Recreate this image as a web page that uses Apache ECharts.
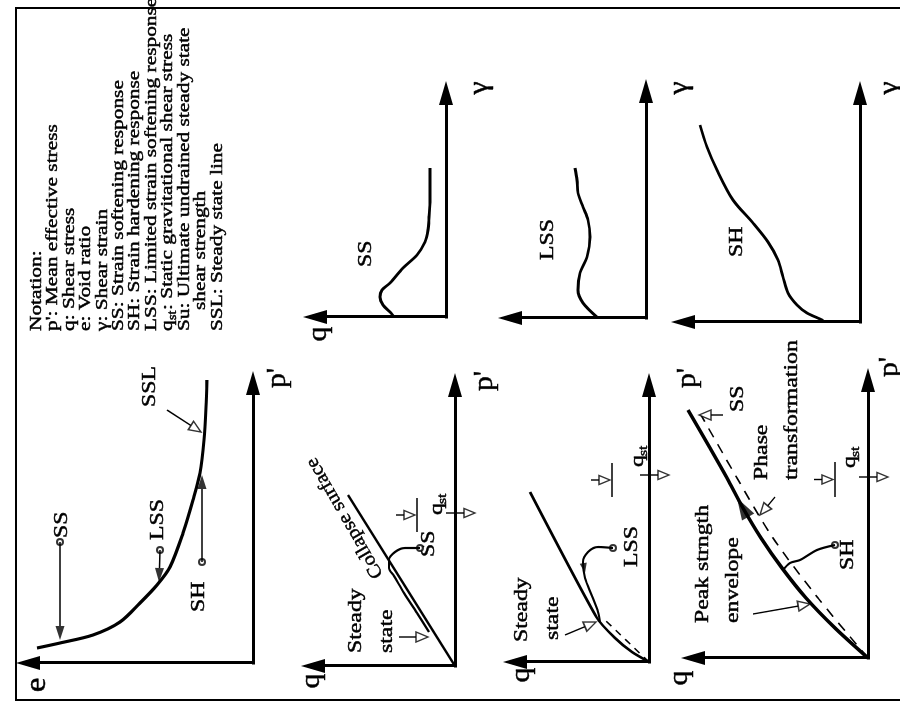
<!DOCTYPE html>
<html>
<head>
<meta charset="utf-8">
<title>Undrained response of sand</title>
<script src="https://cdn.jsdelivr.net/npm/echarts@6.0.0/dist/echarts.min.js"></script>
<style>
  html, body { margin: 0; padding: 0; background: #fff; overflow: hidden; width: 900px; height: 708px; }
  /* the scanned figure lies on its side: draw it upright, then turn the page */
  #chart {
    position: absolute; left: 0; top: 0;
    width: 708px; height: 900px;
    transform-origin: 0 0;
    transform: translate(0, 708px) rotate(-90deg);
  }
</style>
</head>
<body>
<div id="chart"></div>
<script>
const FONT = '"Liberation Serif", "Times New Roman", serif';

const notationLines = [
  "Notation:",
  "p': Mean effective stress",
  "q: Shear stress",
  "e: Void ratio",
  "γ: Shear strain",
  "SS: Strain softening response",
  "SH: Strain hardening response",
  "LSS: Limited strain softening response",
  ": Static gravitational shear stress",   // after q_st
  "Su: Ultimate undrained steady state",
  "shear strength",
  "SSL: Steady state line"
];

// e - p' : steady state line
const sslP = [15, 20, 28, 41, 60, 78, 96, 130, 163, 190, 223, 256, 286];
const sslE = [216, 193, 160, 133, 113, 96, 83, 70, 60, 53, 49, 47, 46];
// SS / LSS / SH states moving onto the SSL (start, tip)
const epFrom = [[121, 193], [113, 93], [101, 51]];
const epTip = [[23, 193], [81, 94], [188, 51]];
const sslArrowFrom = [253, 86];
const sslArrowTip = [231, 52];

// SS : q - p'
const ssSurfP = [0, 171];
const ssSurfQ = [0, 107];
const ssPathP = [118, 118, 114, 106, 98, 90, 73, 53, 34];
const ssPathQ = [35, 50, 60, 66, 66, 61, 51, 38, 26];
// SS : q - gamma
const ssGamma = [0, 4, 12, 20, 27, 34, 49, 62, 75, 87, 100, 117, 149];
const ssQ = [52, 55, 63, 66, 64, 56, 43, 29, 21, 18, 17, 16, 16];

// LSS : q - p'
const lssLineP = [0, 10, 24, 44, 170];
const lssLineQ = [0, 17, 34, 52, 119];
const lssPathP = [114, 115, 110, 100, 84, 66, 50, 40];
const lssPathQ = [36, 51, 61, 66, 64, 57, 51, 49];
// LSS : q - gamma
const lssGamma = [0, 15, 28, 45, 61, 81, 98, 111, 125, 138, 150];
const lssQ = [48, 63, 68, 66, 59, 56, 58, 63, 68, 69, 71];

// SH : q - p'
const shEnvP = [0, 30, 60, 90, 120, 150, 180, 210, 248];
const shEnvQ = [0, 33, 62, 86, 107, 125, 141, 158, 180];
const shPtP = [0, 60, 120, 180, 243];
const shPtQ = [0, 50, 95, 131, 167];
const shPathP = [113, 108, 98, 95, 88];
const shPathQ = [33, 51, 68, 78, 85];
// SH : q - gamma
const shGamma = [0, 2, 9, 17, 29, 45, 62, 80, 99, 122, 152, 175, 197];
const shQ = [36, 38, 53, 63, 72, 77, 82, 92, 107, 127, 143, 153, 160];

// static shear stress marks in the three q - p' panels
const qstLevel = [38, 37, 33];
const qstBarFrom = [134, 165, 161];
const qstBarTo = [168, 199, 196];
const qstAxisP = [153, 187, 181];

// panel origin (page px) and axis length to arrow tip
const panels = [
  [45, 253, 293, 238],   // e - p'
  [42, 455, 294, 155],   // SS q - p'
  [46, 649, 290, 147],   // LSS q - p'
  [50, 868, 291, 188],   // SH q - p'
  [391, 446, 237, 144],  // SS q - gamma
  [390, 646, 240, 149],  // LSS q - gamma
  [386, 860, 242, 190]   // SH q - gamma
];

const series = [];
const graphic = [];

function pts(xs, ys) {
  return xs.map((x, i) => [x, ys[i]]);
}

function curve(g, data, width, extra) {
  series.push(Object.assign({
    type: 'line', xAxisIndex: g, yAxisIndex: g, data: data,
    smooth: 0.3, symbol: 'none', clip: false, silent: true,
    lineStyle: { color: '#000', width: width }
  }, extra || {}));
}

function dot(g, p) {
  series.push({
    type: 'scatter', xAxisIndex: g, yAxisIndex: g, clip: false, silent: true,
    data: [p], symbol: 'emptyCircle', symbolSize: 6,
    itemStyle: { color: '#000', borderWidth: 1.3 }
  });
}

// arrow from -> tip; the head is a triangle symbol turned along the shaft
function arrow(g, from, tip, o) {
  const dx = tip[0] - from[0], dy = tip[1] - from[1];
  const d = Math.hypot(dx, dy);
  const ux = dx / d, uy = dy / d;
  if (o.stem !== false) {
    curve(g, [from, [tip[0] - ux * o.h, tip[1] - uy * o.h]], o.lw || 1.4, { smooth: false });
  }
  series.push({
    type: 'scatter', xAxisIndex: g, yAxisIndex: g, clip: false, silent: true, z: 3,
    data: [{
      value: [tip[0] - ux * o.h / 2, tip[1] - uy * o.h / 2],
      symbol: 'triangle', symbolSize: [o.w, o.h],
      symbolRotate: Math.atan2(-ux, uy) * 180 / Math.PI
    }],
    itemStyle: o.hollow ? { color: '#fff', borderColor: '#000', borderWidth: 1.5 } : { color: '#000' }
  });
  if (o.circle) dot(g, from);
}

const HOLLOW = { hollow: true, w: 10, h: 12 };
const FILLED = { w: 9, h: 14, circle: true };

// e - p'
curve(0, pts(sslP, sslE), 3.2);
epFrom.forEach((f, i) => arrow(0, f, epTip[i], FILLED));
arrow(0, sslArrowFrom, sslArrowTip, HOLLOW);

// SS
curve(1, pts(ssSurfP, ssSurfQ), 2.6, { smooth: false });
curve(1, pts(ssPathP, ssPathQ), 2.2);
dot(1, [ssPathP[0], ssPathQ[0]]);
arrow(1, [29, 56], [29, 27], HOLLOW);
curve(4, pts(ssGamma, ssQ), 2.8);

// LSS
curve(2, pts(lssLineP, lssLineQ), 2.6, { smooth: 0.2 });
curve(2, [[0, 0], [42, 44]], 1.5, { smooth: false, lineStyle: { color: '#000', width: 1.5, type: [7, 6] } });
curve(2, pts(lssPathP, lssPathQ), 2.2);
dot(2, [lssPathP[0], lssPathQ[0]]);
arrow(2, [100, 66], [89, 64], { w: 7, h: 10, stem: false });
arrow(2, [27, 84], [40, 53], HOLLOW);
curve(5, pts(lssGamma, lssQ), 2.8);

// SH
curve(3, pts(shEnvP, shEnvQ), 3.6);
curve(3, pts(shPtP, shPtQ), 1.6, { lineStyle: { color: '#000', width: 1.6, type: [10, 8] } });
curve(3, pts(shPathP, shPathQ), 2.2);
dot(3, [shPathP[0], shPathQ[0]]);
arrow(3, [136, 117], [160, 131], { w: 14, h: 22, stem: false });
arrow(3, [44, 115], [54, 58], HOLLOW);
arrow(3, [161, 93], [143, 108], HOLLOW);
arrow(3, [243, 145], [243, 169], HOLLOW);
curve(6, pts(shGamma, shQ), 2.8);

// q_st marks: level bar with arrow, and arrow across the p' axis
qstLevel.forEach((q, i) => {
  const g = i + 1;
  const mid = (qstBarFrom[i] + qstBarTo[i]) / 2;
  curve(g, [[qstBarFrom[i], q], [qstBarTo[i], q]], 1.6, { smooth: false });
  arrow(g, [mid, q + 21], [mid, q + 2], { hollow: true, w: 9, h: 11 });
  arrow(g, [qstAxisP[i], 9], [qstAxisP[i], -20], { hollow: true, w: 9, h: 11 });
});

// text is drawn a touch heavy, like the scanned original
function label(str, x, y, size, o) {
  o = o || {};
  graphic.push({
    type: 'text', x: x, y: y, scaleX: o.sx || 1.25, rotation: o.rot || 0, silent: true,
    style: {
      text: str, font: size + 'px ' + FONT, fill: '#000',
      stroke: '#000', lineWidth: o.lw == null ? 0.45 : o.lw,
      textAlign: o.align || 'left', textVerticalAlign: 'middle',
      align: o.align || 'left', verticalAlign: 'middle'
    }
  });
}
function qst(x, y) {
  label('q', x, y, 19);
  label('st', x + 11, y + 6, 12.5);
}

// border
graphic.push({
  type: 'rect', silent: true,
  shape: { x: 8, y: 16, width: 692, height: 900 },
  style: { fill: 'none', stroke: '#000', lineWidth: 2 }
});

// notation
const noteY = [36, 52.5, 69, 85.5, 102, 118, 134.5, 151, 167.5, 184, 200.5, 217];
notationLines.forEach((t, i) => {
  if (i === 8) {
    label('q', 377, noteY[i], 17.5, { sx: 1.22 });
    label('st', 388, noteY[i] + 5, 11.5, { sx: 1.22 });
    label(t, 398, noteY[i], 17.5, { sx: 1.22 });
  } else {
    label(t, i === 10 ? 398 : 377, noteY[i], 17.5, { sx: 1.22 });
  }
});

const AX = 27;
// e - p'
label('e', 23, 37, 30, { align: 'center', sx: 1.1 });
label("p'", 330, 278, AX, { align: 'center', sx: 1.1 });
label('SS', 170, 62, 19);
label('LSS', 168, 158, 19);
label('SH', 96, 199, 19);
label('SSL', 301, 150, 19);
// SS q - p'
label('q', 27, 312, AX, { align: 'center', sx: 1.1 });
label("p'", 327, 485, AX, { align: 'center', sx: 1.1 });
label('Steady', 55, 356, 19);
label('state', 55, 387, 19);
label('Collapse surface', 190, 345, 19, { align: 'center', sx: 1.08, rot: 30 * Math.PI / 180 });
label('SS', 151, 429, 19);
qst(193, 437);
// LSS q - p'
label('q', 33, 522, AX, { align: 'center', sx: 1.1 });
label("p'", 330, 688, AX, { align: 'center', sx: 1.1 });
label('Steady', 66, 522, 19);
label('state', 68, 553, 19);
label('LSS', 141, 632, 19);
qst(241, 638);
// SH q - p'
label('q', 30, 680, AX, { align: 'center', sx: 1.1 });
label("p'", 341, 890, AX, { align: 'center', sx: 1.1 });
label('Peak strngth', 85, 703, 19);
label('envelope', 85, 733, 19);
label('Phase', 228, 762, 19);
label('transformation', 228, 792, 19);
label('SS', 296, 738, 19);
label('SH', 138, 848, 19);
qst(240, 850);
// q - gamma panels
label('q', 374, 319, AX, { align: 'center', sx: 1.1 });
label('γ', 620, 480, AX, { align: 'center', sx: 1.1 });
label('SS', 441, 366, 19);
label('γ', 620, 680, AX, { align: 'center', sx: 1.1 });
label('LSS', 448, 548, 19);
label('γ', 620, 890, AX, { align: 'center', sx: 1.1 });
label('SH', 451, 737, 19);

function axis(i, max) {
  return {
    type: 'value', gridIndex: i, min: 0, max: max,
    axisLine: {
      show: true, onZero: true,
      symbol: ['none', 'triangle'], symbolSize: [14, 24],
      lineStyle: { color: '#000', width: 3, cap: 'square' }
    },
    axisTick: { show: false },
    axisLabel: { show: false },
    splitLine: { show: false }
  };
}

const chart = echarts.init(document.getElementById('chart'));
chart.setOption({
  animation: false,
  backgroundColor: '#fff',
  grid: panels.map(p => ({
    left: p[0], top: p[1] - p[3] + 13, width: p[2] - 13, height: p[3] - 13,
    outerBoundsMode: 'none'
  })),
  xAxis: panels.map((p, i) => axis(i, p[2] - 13)),
  yAxis: panels.map((p, i) => axis(i, p[3] - 13)),
  series: series,
  graphic: graphic
});
</script>
</body>
</html>
